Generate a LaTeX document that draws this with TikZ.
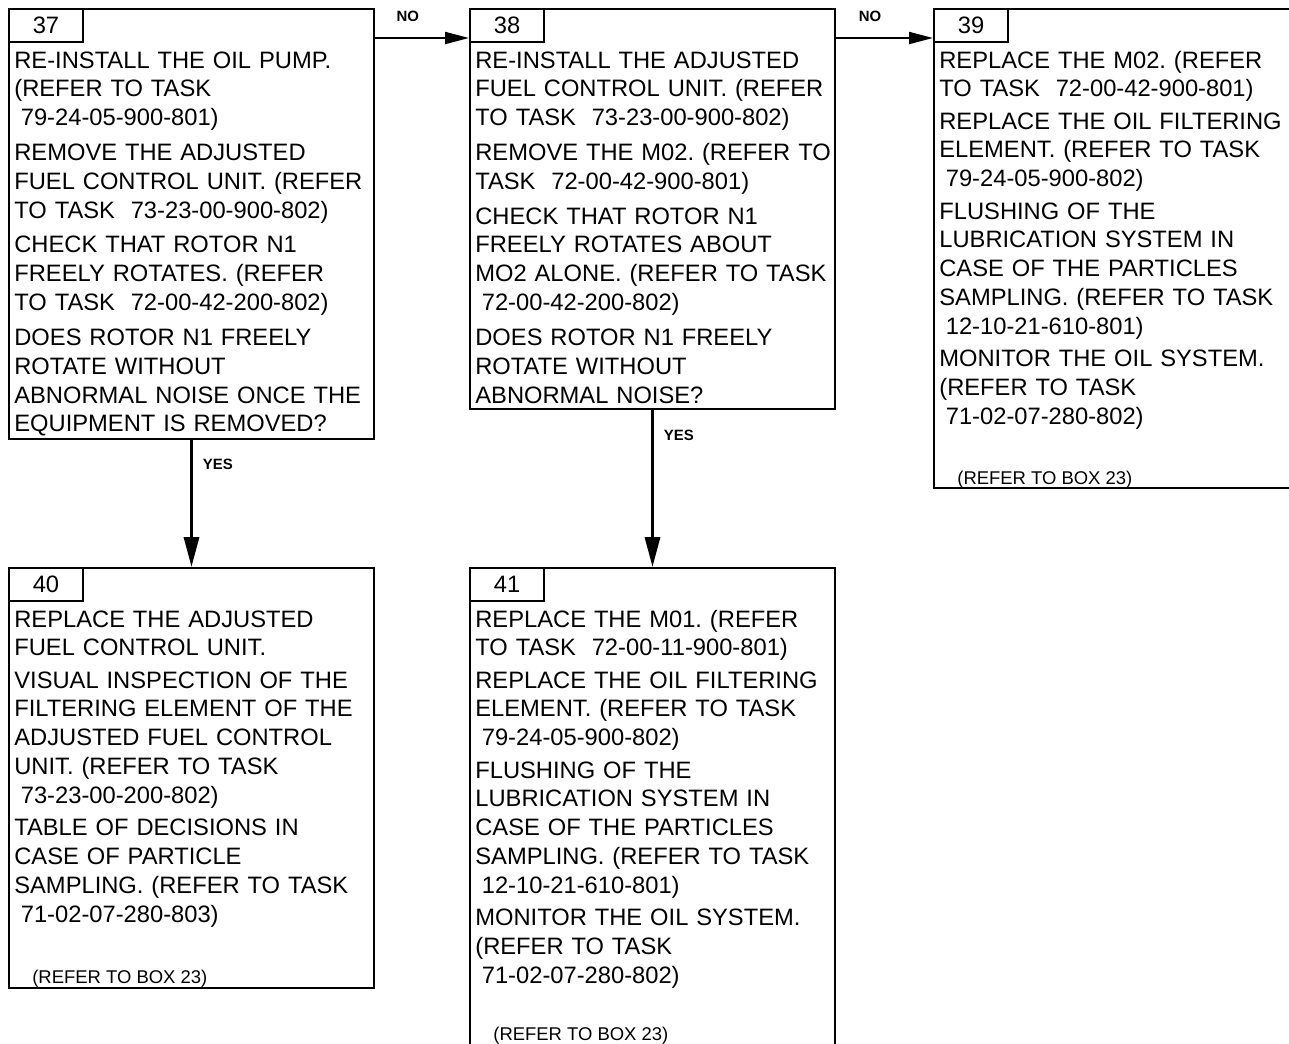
\documentclass[tikz,border=0pt]{standalone}
\usepackage{fontspec}
\setmainfont{Liberation Sans}
\usepackage{tikz}
\usetikzlibrary{arrows.meta,positioning,calc}
\newcommand{\bodyfont}{\fontsize{13.5}{16.4}\selectfont}
\newcommand{\lead}{\hspace*{1.3mm}}
\frenchspacing

\begin{document}
\begin{tikzpicture}[
  panel/.style={draw,line width=0.4mm,anchor=north west,minimum width=73mm,inner sep=0pt},
  numtab/.style={draw,line width=0.4mm,anchor=north west,minimum width=14.8mm,
                 minimum height=6.6mm,inner sep=0pt,font=\bodyfont},
  body/.style={anchor=base west,align=left,text width=75mm,inner sep=0pt,font=\bodyfont},
  boxref/.style={anchor=base west,inner sep=0pt,font=\fontsize{10.5}{12}\selectfont},
  lbl/.style={font=\fontsize{8.5}{10}\selectfont\bfseries},
  noarr/.style={-{Triangle[length=4.8mm,width=2.4mm]},line width=0.4mm},
  yesarr/.style={-{Triangle[length=6mm,width=3mm]},line width=0.65mm}
]
\useasboundingbox (0,0) rectangle (257.8mm,-208.6mm);
\clip (0,0) rectangle (257.8mm,-208.6mm);

% top row
\node[panel,minimum height=86mm] (box37) at (1.6mm,-1.6mm) {};
\node[panel,minimum height=80mm,right=18.8mm of box37.north east,anchor=north west] (box38) {};
\node[panel,minimum height=95.8mm,right=19.4mm of box38.north east,anchor=north west] (box39) {};
% bottom row
\node[panel,minimum height=84mm,below=25.4mm of box37.south west,anchor=north west] (box40) {};
\node[panel,minimum height=96mm,below=31.4mm of box38.south west,anchor=north west] (box41) {};

\node[numtab] (tab37) at (box37.north west) {37};
\node[numtab] (tab38) at (box38.north west) {38};
\node[numtab] (tab39) at (box39.north west) {39};
\node[numtab] (tab40) at (box40.north west) {40};
\node[numtab] (tab41) at (box41.north west) {41};

\node[body] (txt37) at ([shift={(1.2mm,-12mm)}]box37.north west)
{RE-INSTALL THE OIL PUMP.\\
(REFER TO TASK\\
\lead 79-24-05-900-801)\\[1.2mm]
REMOVE THE ADJUSTED\\
FUEL CONTROL UNIT. (REFER\\
TO TASK~~73-23-00-900-802)\\[1.2mm]
CHECK THAT ROTOR N1\\
FREELY ROTATES. (REFER\\
TO TASK~~72-00-42-200-802)\\[1.2mm]
DOES ROTOR N1 FREELY\\
ROTATE WITHOUT\\
ABNORMAL NOISE ONCE THE\\
EQUIPMENT IS REMOVED?};

\node[body] (txt38) at ([shift={(1.2mm,-12mm)}]box38.north west)
{RE-INSTALL THE ADJUSTED\\
FUEL CONTROL UNIT. (REFER\\
TO TASK~~73-23-00-900-802)\\[1.2mm]
REMOVE THE M02. (REFER TO\\
TASK~~72-00-42-900-801)\\[1.2mm]
CHECK THAT ROTOR N1\\
FREELY ROTATES ABOUT\\
MO2 ALONE. (REFER TO TASK\\
\lead 72-00-42-200-802)\\[1.2mm]
DOES ROTOR N1 FREELY\\
ROTATE WITHOUT\\
ABNORMAL NOISE?};

\node[body] (txt39) at ([shift={(1.2mm,-12mm)}]box39.north west)
{REPLACE THE M02. (REFER\\
TO TASK~~72-00-42-900-801)\\[0.7mm]
REPLACE THE OIL FILTERING\\
ELEMENT. (REFER TO TASK\\
\lead 79-24-05-900-802)\\[0.7mm]
FLUSHING OF THE\\
LUBRICATION SYSTEM IN\\
CASE OF THE PARTICLES\\
SAMPLING. (REFER TO TASK\\
\lead 12-10-21-610-801)\\[0.7mm]
MONITOR THE OIL SYSTEM.\\
(REFER TO TASK\\
\lead 71-02-07-280-802)};
\node[boxref] (ref39) at ([shift={(4.8mm,1mm)}]box39.south west) {(REFER TO BOX 23)};

\node[body] (txt40) at ([shift={(1.2mm,-12mm)}]box40.north west)
{REPLACE THE ADJUSTED\\
FUEL CONTROL UNIT.\\[0.7mm]
VISUAL INSPECTION OF THE\\
FILTERING ELEMENT OF THE\\
ADJUSTED FUEL CONTROL\\
UNIT. (REFER TO TASK\\
\lead 73-23-00-200-802)\\[0.7mm]
TABLE OF DECISIONS IN\\
CASE OF PARTICLE\\
SAMPLING. (REFER TO TASK\\
\lead 71-02-07-280-803)};
\node[boxref] (ref40) at ([shift={(4.8mm,1.2mm)}]box40.south west) {(REFER TO BOX 23)};

\node[body] (txt41) at ([shift={(1.2mm,-12mm)}]box41.north west)
{REPLACE THE M01. (REFER\\
TO TASK~~72-00-11-900-801)\\[0.7mm]
REPLACE THE OIL FILTERING\\
ELEMENT. (REFER TO TASK\\
\lead 79-24-05-900-802)\\[0.7mm]
FLUSHING OF THE\\
LUBRICATION SYSTEM IN\\
CASE OF THE PARTICLES\\
SAMPLING. (REFER TO TASK\\
\lead 12-10-21-610-801)\\[0.7mm]
MONITOR THE OIL SYSTEM.\\
(REFER TO TASK\\
\lead 71-02-07-280-802)};
\node[boxref] (ref41) at ([shift={(4.8mm,1.7mm)}]box41.south west) {(REFER TO BOX 23)};

% connectors
\draw[noarr] ([yshift=-6mm]box37.north east) -- node[lbl,above=2mm,pos=0.35] (no1) {NO} ([yshift=-6mm]box38.north west);
\draw[noarr] ([yshift=-6mm]box38.north east) -- node[lbl,above=2mm,pos=0.35] (no2) {NO} ([yshift=-6mm]box39.north west);
\draw[yesarr] (box37.south) -- node[lbl,right=0.8mm,pos=0.19] (yes1) {YES} (box40.north);
\draw[yesarr] (box38.south) -- node[lbl,right=0.8mm,pos=0.16] (yes2) {YES} (box41.north);
\end{tikzpicture}
\end{document}
